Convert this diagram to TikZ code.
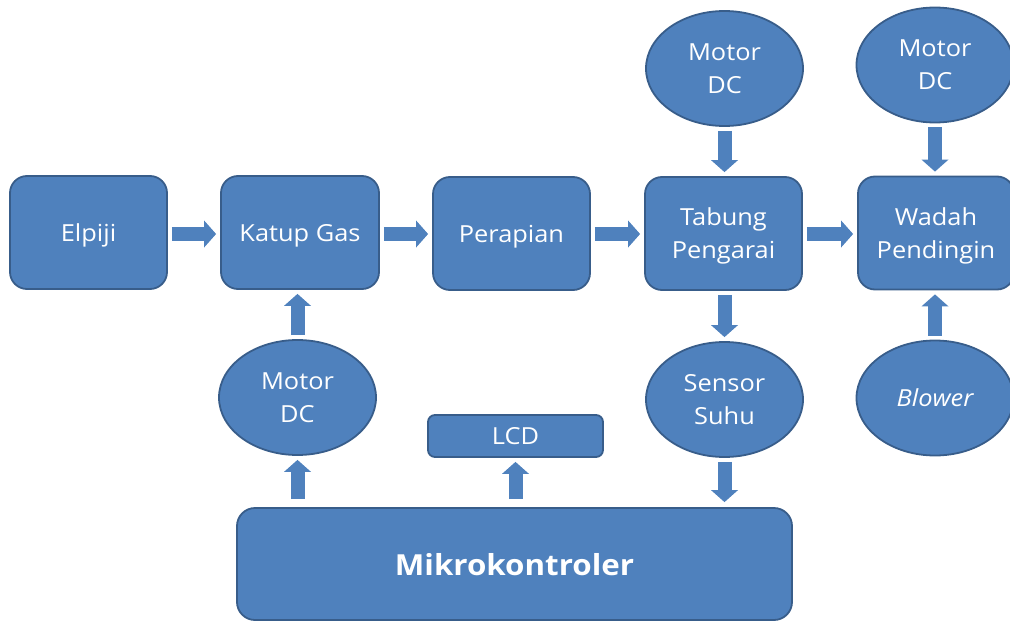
\documentclass[tikz,border=0pt]{standalone}
\usepackage{fontspec}
\setmainfont{Open Sans}[FakeStretch=1.08]
\usetikzlibrary{shapes.geometric,arrows.meta}
\definecolor{blu}{RGB}{79,129,189}
\definecolor{bord}{RGB}{56,93,138}
\tikzset{
  base/.style={draw=bord, fill=blu, line width=1.8pt, text=white, align=center, inner sep=0pt,
    text depth=0pt, font=\fontsize{23.5}{33}\selectfont},
  blockbox/.style={base, rectangle, rounded corners=17pt, minimum width=157pt, minimum height=113pt},
  oval/.style={base, ellipse, minimum width=157pt, minimum height=115pt},
  flow/.style={draw=blu, line width=14pt, line cap=butt,
    -{Triangle[width=27pt 0 0, length=12pt 0 0, line width=0pt]},
    shorten <=4pt, shorten >=4pt}
}
\begin{document}
\begin{tikzpicture}[x=1pt,y=-1pt]
\useasboundingbox (0,0) rectangle (1010,621);
\node[blockbox] (elp) at (88.5,232.5) {Elpiji};
\node[blockbox, minimum width=158pt] (katup) at (300,232.5) {Katup Gas};
\node[blockbox] (perap) at (511.5,233.5) {Perapian};
\node[blockbox] (tabung) at (723.5,233.5) {Tabung\\Pengarai};
\node[blockbox, minimum width=156pt] (wadah) at (936,233) {Wadah\\Pendingin};
\node[oval] (mot1) at (297.5,397.5) {Motor\\DC};
\node[oval] (mot2) at (724.5,68.5) {Motor\\DC};
\node[oval] (mot3) at (935,65) {Motor\\DC};
\node[oval] (sens) at (724.5,399.5) {Sensor\\Suhu};
\node[oval] (blow) at (935,398) {\itshape Blower};
\node[base, rectangle, rounded corners=7pt, minimum width=175pt, minimum height=42pt] (lcd) at (515.5,436) {LCD};
\node[base, rectangle, rounded corners=18pt, minimum width=555pt, minimum height=112pt,
  font=\fontsize{29}{35}\selectfont\bfseries] (mikro) at (514.5,564) {Mikrokontroler};
% horizontal flow
\draw[flow] (elp.east |- 0,234) -- (katup.west |- 0,234);
\draw[flow] (katup.east |- 0,234) -- (perap.west |- 0,234);
\draw[flow] (perap.east |- 0,234) -- (tabung.west |- 0,234);
\draw[flow] (tabung.east |- 0,234) -- (wadah.west |- 0,234);
% vertical flow
\draw[flow] (mot1.north) -- (mot1.north |- katup.south);
\draw[flow, shorten <=8pt] (mot1.south |- mikro.north) -- (mot1.south);
\draw[flow, shorten <=8pt] (lcd.south |- mikro.north) -- (lcd.south);
\draw[flow, shorten >=5pt] (sens.south) -- (sens.south |- mikro.north);
\draw[flow] (tabung.south -| sens.south) -- (sens.north);
\draw[flow] (mot2.south) -- (mot2.south |- tabung.north);
\draw[flow] (mot3.south) -- (mot3.south |- wadah.north);
\draw[flow] (blow.north) -- (blow.north |- wadah.south);
\end{tikzpicture}
\end{document}
